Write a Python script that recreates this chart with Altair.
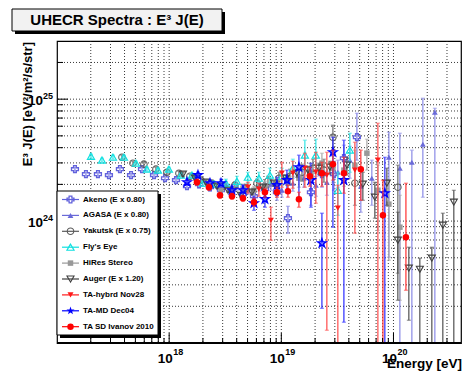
import altair as alt
import pandas as pd

# ---------------- data ----------------
# values are log10(E / eV) and log10(E^3 J / (eV^2 m^-2 s^-1 sr^-1)); hi/lo = error bar ends
akeno_logE = [17.160, 17.258, 17.365, 17.463, 17.561, 17.660, 17.758, 17.865, 17.963, 18.061, 18.159, 18.266, 18.364, 18.462, 18.560, 18.658, 18.756, 18.854, 18.961, 19.059, 19.264, 19.362, 19.469, 19.558, 19.674]
akeno_logJ = [24.426, 24.385, 24.385, 24.377, 24.426, 24.377, 24.426, 24.377, 24.352, 24.336, 24.286, 24.303, 24.278, 24.253, 24.253, 24.221, 24.204, 24.262, 24.237, 24.024, 24.237, 24.385, 24.385, 24.516, 24.688]
akeno_hi = [24.442, 24.401, 24.401, 24.393, 24.442, 24.393, 24.442, 24.401, 24.377, 24.360, 24.311, 24.327, 24.311, 24.286, 24.295, 24.262, 24.253, 24.311, 24.295, 24.122, 24.319, 24.475, 24.491, 24.623, 24.885]
akeno_lo = [24.409, 24.368, 24.368, 24.360, 24.409, 24.360, 24.409, 24.352, 24.327, 24.311, 24.262, 24.270, 24.245, 24.221, 24.212, 24.180, 24.155, 24.204, 24.171, 23.901, 24.130, 24.278, 24.253, 24.377, 24.500]

agasa_logE = [18.506, 18.604, 18.702, 18.800, 18.907, 19.005, 19.103, 19.201, 19.308, 19.406, 19.504, 19.611, 19.709, 19.807, 19.959, 20.057, 20.164, 20.262, 20.369]
agasa_logJ = [24.303, 24.286, 24.253, 24.286, 24.303, 24.253, 24.311, 24.352, 24.295, 24.319, 24.401, 24.500, 24.286, 24.352, 24.524, 24.434, 24.483, 24.631, 24.893]
agasa_hi = [24.327, 24.311, 24.286, 24.319, 24.344, 24.303, 24.368, 24.418, 24.368, 24.409, 24.500, 24.614, 24.434, 24.500, 24.729, 24.721, 24.582, 25.008, 24.926]
agasa_lo = [24.278, 24.253, 24.221, 24.245, 24.253, 24.196, 24.245, 24.278, 24.204, 24.212, 24.278, 24.352, 24.073, 24.130, 23.704, 22.8, 22.8, 24.196, 22.8]

yakutsk_logE = [17.579, 17.677, 17.775, 17.882, 17.980, 18.087, 18.185, 18.283, 18.381, 18.480, 18.586, 18.684, 18.783, 18.881, 18.979, 19.077, 19.184, 19.282, 19.380, 19.460, 19.656, 20.039]
yakutsk_logJ = [24.524, 24.475, 24.467, 24.426, 24.401, 24.393, 24.368, 24.336, 24.311, 24.286, 24.295, 24.270, 24.311, 24.327, 24.352, 24.368, 24.401, 24.434, 24.418, 24.688, 24.311, 24.278]
yakutsk_hi = [24.541, 24.491, 24.483, 24.442, 24.418, 24.409, 24.385, 24.352, 24.336, 24.311, 24.319, 24.303, 24.344, 24.368, 24.401, 24.426, 24.467, 24.508, 24.508, 24.787, 24.459, 24.459]
yakutsk_lo = [24.508, 24.459, 24.450, 24.409, 24.385, 24.377, 24.352, 24.311, 24.286, 24.262, 24.262, 24.237, 24.270, 24.278, 24.295, 24.303, 24.327, 24.352, 24.319, 24.557, 24.130, 23.573]

flyseye_logE = [17.303, 17.401, 17.499, 17.597, 17.704, 17.802, 17.900, 17.998, 18.105, 18.203, 18.301, 18.399, 18.506, 18.604, 18.702, 18.800, 18.898, 19.005, 19.103, 19.210, 19.308, 19.504, 19.611]
flyseye_logJ = [24.532, 24.500, 24.524, 24.524, 24.475, 24.426, 24.418, 24.426, 24.377, 24.377, 24.311, 24.303, 24.311, 24.327, 24.360, 24.352, 24.377, 24.368, 24.434, 24.541, 24.541, 24.253, 24.582]
flyseye_hi = [24.549, 24.516, 24.541, 24.541, 24.491, 24.442, 24.434, 24.442, 24.393, 24.393, 24.336, 24.327, 24.344, 24.368, 24.401, 24.401, 24.434, 24.434, 24.508, 24.664, 24.672, 24.401, 24.721]
flyseye_lo = [24.516, 24.483, 24.508, 24.508, 24.459, 24.409, 24.401, 24.409, 24.360, 24.352, 24.286, 24.278, 24.278, 24.286, 24.311, 24.295, 24.311, 24.295, 24.352, 24.418, 24.401, 24.048, 24.401]

hires_logE = [18.462, 18.560, 18.658, 18.756, 18.854, 18.961, 19.059, 19.157, 19.255, 19.362, 19.460, 19.558, 19.656, 19.763, 19.861, 19.959, 20.057]
hires_logJ = [24.262, 24.253, 24.270, 24.253, 24.286, 24.303, 24.311, 24.352, 24.401, 24.475, 24.434, 24.418, 24.459, 24.557, 24.253, 24.139, 23.950]
hires_hi = [24.286, 24.278, 24.303, 24.286, 24.327, 24.352, 24.368, 24.418, 24.475, 24.557, 24.532, 24.524, 24.582, 24.672, 24.459, 24.336, 24.212]
hires_lo = [24.237, 24.221, 24.237, 24.212, 24.245, 24.253, 24.253, 24.278, 24.319, 24.377, 24.319, 24.286, 24.311, 24.418, 23.925, 23.679, 23.351]

auger_logE = [18.123, 18.230, 18.328, 18.426, 18.524, 18.640, 18.738, 18.836, 18.934, 19.041, 19.139, 19.237, 19.335, 19.433, 19.585, 19.727, 19.834, 19.941, 20.039, 20.137, 20.235, 20.342, 20.440, 20.538]
auger_logJ = [24.385, 24.352, 24.319, 24.286, 24.253, 24.212, 24.237, 24.278, 24.311, 24.352, 24.393, 24.418, 24.434, 24.442, 24.459, 24.303, 24.196, 24.311, 23.843, 23.614, 23.605, 23.696, 23.966, 24.155]
auger_hi = [24.401, 24.368, 24.336, 24.303, 24.270, 24.229, 24.253, 24.295, 24.327, 24.377, 24.418, 24.450, 24.475, 24.491, 24.524, 24.401, 24.319, 24.434, 24.073, 23.786, 23.696, 23.786, 24.065, 24.253]
auger_lo = [24.368, 24.336, 24.303, 24.270, 24.237, 24.196, 24.221, 24.262, 24.286, 24.327, 24.360, 24.377, 24.385, 24.385, 24.377, 24.171, 24.024, 24.130, 23.351, 23.187, 22.8, 22.8, 22.8, 22.8]

tahybrid_logE = [18.702, 18.800, 18.907, 19.005, 19.103, 19.210, 19.308, 19.406, 19.504, 19.656, 19.861]
tahybrid_logJ = [24.278, 24.262, 24.007, 24.393, 24.393, 24.434, 24.401, 24.377, 24.106, 24.418, 24.500]
tahybrid_hi = [24.319, 24.311, 24.114, 24.483, 24.491, 24.557, 24.565, 24.565, 24.295, 24.647, 24.803]
tahybrid_lo = [24.229, 24.204, 23.843, 24.278, 24.270, 24.278, 24.147, 23.105, 22.8, 23.901, 22.8]

tamd_logE = [18.159, 18.257, 18.364, 18.462, 18.560, 18.658, 18.756, 18.854, 18.961, 19.050, 19.157, 19.264, 19.362, 19.460, 19.558, 19.923]
tamd_logJ = [24.319, 24.377, 24.311, 24.311, 24.253, 24.253, 24.147, 24.180, 24.295, 24.336, 24.442, 24.336, 23.819, 24.565, 24.336, 24.229]
tamd_hi = [24.344, 24.401, 24.336, 24.344, 24.286, 24.295, 24.204, 24.237, 24.360, 24.418, 24.541, 24.475, 24.065, 24.688, 24.664, 24.524]
tamd_lo = [24.295, 24.352, 24.286, 24.278, 24.221, 24.204, 24.089, 24.114, 24.212, 24.237, 24.188, 24.114, 23.285, 23.950, 23.171, 22.8]

tasd_logE = [18.248, 18.355, 18.453, 18.560, 18.658, 18.756, 18.854, 18.961, 19.059, 19.157, 19.255, 19.362, 19.460, 19.558, 19.709, 19.906, 20.111]
tasd_logJ = [24.319, 24.278, 24.212, 24.204, 24.188, 24.155, 24.237, 24.237, 24.245, 24.180, 24.368, 24.393, 24.467, 24.393, 24.426, 24.048, 23.868]
tasd_hi = [24.344, 24.303, 24.237, 24.229, 24.212, 24.188, 24.270, 24.278, 24.295, 24.237, 24.442, 24.483, 24.582, 24.524, 24.582, 24.336, 24.311]
tasd_lo = [24.295, 24.253, 24.188, 24.180, 24.163, 24.122, 24.196, 24.196, 24.196, 24.114, 24.286, 24.286, 24.336, 24.229, 24.171, 22.8, 23.433]

series_labels = ["Akeno (E x 0.80)", "AGASA (E x 0.80)", "Yakutsk (E x 0.75)", "Fly's Eye",
                 "HiRes Stereo", "Auger (E x 1.20)", "TA-hybrd Nov28", "TA-MD Dec04", "TA SD Ivanov 2010"]

x_major = [1e18, 1e19, 1e20]
x_major_sup = ["18", "19", "20"]
x_minor = [m * 10.0 ** d for d in (17, 18, 19) for m in range(2, 10)] + [2e20, 3e20]
y_major = [1e24, 1e25]
y_major_sup = ["24", "25"]
y_minor = [m * 10.0 ** d for d in (23, 24) for m in range(2, 10)] + [2e25]

# ---------------- styling ----------------
FONT = "Liberation Sans"
W, H = 404, 302
xs = alt.Scale(type="log", domain=[1e17, 4e20], nice=False)
ys = alt.Scale(type="log", domain=[1e23, 3e25], nice=False)
STAR = ("M0,-1L0.235,-0.324L0.951,-0.309L0.38,0.124L0.588,0.809L0,0.4L-0.588,0.809"
        "L-0.38,0.124L-0.951,-0.309L-0.235,-0.324Z")

raw = [
    (akeno_logE, akeno_logJ, akeno_hi, akeno_lo),
    (agasa_logE, agasa_logJ, agasa_hi, agasa_lo),
    (yakutsk_logE, yakutsk_logJ, yakutsk_hi, yakutsk_lo),
    (flyseye_logE, flyseye_logJ, flyseye_hi, flyseye_lo),
    (hires_logE, hires_logJ, hires_hi, hires_lo),
    (auger_logE, auger_logJ, auger_hi, auger_lo),
    (tahybrid_logE, tahybrid_logJ, tahybrid_hi, tahybrid_lo),
    (tamd_logE, tamd_logJ, tamd_hi, tamd_lo),
    (tasd_logE, tasd_logJ, tasd_hi, tasd_lo),
]
styles = [
    dict(color="#6262dc", bar="#8080e4", shape="cross", filled=False, size=48, sw=1.3),
    dict(color="#6a6ad8", bar="#8a8ae6", shape="triangle-up", filled=True, size=34, sw=1),
    dict(color="#5a5a5a", bar="#6a6a6a", shape="circle", filled=False, size=42, sw=1.1),
    dict(color="#10e0e0", bar="#30e6e6", shape="triangle-up", filled=False, size=50, sw=1.2),
    dict(color="#999999", bar="#a6a6a6", shape="square", filled=True, size=30, sw=1),
    dict(color="#404040", bar="#505050", shape="triangle-down", filled=False, size=50, sw=1.1),
    dict(color="#ff1a1a", bar="#ff4a4a", shape="triangle-down", filled=True, size=36, sw=1),
    dict(color="#0000ff", bar="#2a2aff", shape=STAR, filled=False, size=72, sw=1.5),
    dict(color="#ff0000", bar="#ff3030", shape="circle", filled=True, size=42, sw=1),
]

one = pd.DataFrame({"a": [0]})
layers = []

# grid
gx = pd.DataFrame({"v": x_minor + x_major})
gy = pd.DataFrame({"v": y_minor + y_major})
layers.append(alt.Chart(gx).mark_rule(color="#222", strokeDash=[1, 2], strokeWidth=0.9).encode(
    x=alt.X("v:Q", scale=xs, axis=None)))
layers.append(alt.Chart(gy).mark_rule(color="#222", strokeDash=[1, 2], strokeWidth=0.9).encode(
    y=alt.Y("v:Q", scale=ys, axis=None)))

# data
for (le, lj, lh, ll), st in zip(raw, styles):
    df = pd.DataFrame({
        "E": [10 ** v for v in le],
        "J": [10 ** v for v in lj],
        "Jhi": [10 ** v for v in lh],
        "Jlo": [10 ** v for v in ll],
    })
    X = alt.X("E:Q", scale=xs, axis=None)
    layers.append(alt.Chart(df).mark_rule(color=st["bar"], strokeWidth=1.2, clip=True).encode(
        x=X, y=alt.Y("Jlo:Q", scale=ys, axis=None), y2="Jhi:Q"))
    for col in ("Jhi", "Jlo"):
        layers.append(alt.Chart(df).mark_tick(orient="horizontal", size=4, thickness=1,
                                              color=st["bar"], clip=True).encode(
            x=X, y=alt.Y(f"{col}:Q", scale=ys, axis=None)))
    layers.append(alt.Chart(df).mark_point(shape=st["shape"], filled=st["filled"], size=st["size"],
                                           color=st["color"], strokeWidth=st["sw"], opacity=1,
                                           clip=True).encode(
        x=X, y=alt.Y("J:Q", scale=ys, axis=None)))

# ticks (inside, ROOT style)
layers.append(alt.Chart(pd.DataFrame({"v": x_minor})).mark_rule(color="black", strokeWidth=1).encode(
    x=alt.X("v:Q", scale=xs, axis=None), y=alt.value(H), y2=alt.value(H - 5)))
layers.append(alt.Chart(pd.DataFrame({"v": x_major})).mark_rule(color="black", strokeWidth=1).encode(
    x=alt.X("v:Q", scale=xs, axis=None), y=alt.value(H), y2=alt.value(H - 10)))
layers.append(alt.Chart(pd.DataFrame({"v": y_minor})).mark_rule(color="black", strokeWidth=1).encode(
    y=alt.Y("v:Q", scale=ys, axis=None), x=alt.value(0), x2=alt.value(6)))
layers.append(alt.Chart(pd.DataFrame({"v": y_major})).mark_rule(color="black", strokeWidth=1).encode(
    y=alt.Y("v:Q", scale=ys, axis=None), x=alt.value(0), x2=alt.value(11)))
# bottom axis line
layers.append(alt.Chart(one).mark_rule(color="black", strokeWidth=2).encode(
    x=alt.value(0), x2=alt.value(W), y=alt.value(H)))

# tick labels
xl = pd.DataFrame({"v": x_major, "t": ["10"] * 3, "s": x_major_sup})
layers.append(alt.Chart(xl).mark_text(font=FONT, fontSize=13.5, fontWeight="bold", align="center",
                                      baseline="alphabetic", dx=-4).encode(
    x=alt.X("v:Q", scale=xs, axis=None), y=alt.value(H + 20), text="t:N"))
layers.append(alt.Chart(xl).mark_text(font=FONT, fontSize=9, fontWeight="bold", align="left",
                                      baseline="alphabetic", dx=4).encode(
    x=alt.X("v:Q", scale=xs, axis=None), y=alt.value(H + 12), text="s:N"))
yl = pd.DataFrame({"v": y_major, "t": ["10"] * 2, "s": y_major_sup})
layers.append(alt.Chart(yl).mark_text(font=FONT, fontSize=13.5, fontWeight="bold", align="right",
                                      baseline="alphabetic", dy=6).encode(
    y=alt.Y("v:Q", scale=ys, axis=None), x=alt.value(-14), text="t:N"))
layers.append(alt.Chart(yl).mark_text(font=FONT, fontSize=9, fontWeight="bold", align="left",
                                      baseline="alphabetic", dy=0).encode(
    y=alt.Y("v:Q", scale=ys, axis=None), x=alt.value(-14), text="s:N"))

# axis titles
layers.append(alt.Chart(one).mark_text(font=FONT, fontSize=13.5, fontWeight="bold", align="right",
                                       baseline="alphabetic").encode(
    x=alt.value(W + 1), y=alt.value(H + 25), text=alt.value("Energy [eV]")))
layers.append(alt.Chart(one).mark_text(font=FONT, fontSize=13, fontWeight="bold", align="right",
                                       baseline="alphabetic", angle=270).encode(
    x=alt.value(-25), y=alt.value(1), text=alt.value("E³ J(E) [eV²/m²/s/str]")))

# title box
layers.append(alt.Chart(one).mark_rect(color="black").encode(
    x=alt.value(-42), x2=alt.value(168), y=alt.value(-29), y2=alt.value(-7)))
layers.append(alt.Chart(one).mark_rect(fill="#f2f2f2", stroke="black", strokeWidth=1).encode(
    x=alt.value(-45), x2=alt.value(165), y=alt.value(-32), y2=alt.value(-10)))
layers.append(alt.Chart(one).mark_text(font=FONT, fontSize=15, fontWeight="bold", align="center",
                                       baseline="alphabetic").encode(
    x=alt.value(60), y=alt.value(-16), text=alt.value("UHECR Spectra : E³ J(E)")))

# legend
layers.append(alt.Chart(one).mark_rect(color="black").encode(
    x=alt.value(3), x2=alt.value(104), y=alt.value(153), y2=alt.value(297)))
layers.append(alt.Chart(one).mark_rect(fill="white", stroke="black", strokeWidth=1).encode(
    x=alt.value(0), x2=alt.value(101), y=alt.value(150), y2=alt.value(294)))
for i, (lab, st) in enumerate(zip(series_labels, styles)):
    yy = 158.5 + i * 15.9
    layers.append(alt.Chart(one).mark_rule(color=st["color"], strokeWidth=1.2).encode(
        x=alt.value(5), x2=alt.value(22), y=alt.value(yy)))
    layers.append(alt.Chart(one).mark_point(shape=st["shape"], filled=st["filled"] or i == 7,
                                            size=st["size"], color=st["color"], strokeWidth=st["sw"],
                                            opacity=1).encode(
        x=alt.value(13.5), y=alt.value(yy)))
    layers.append(alt.Chart(one).mark_text(font=FONT, fontSize=8, fontWeight="bold", align="left",
                                           baseline="middle").encode(
        x=alt.value(26), y=alt.value(yy), text=alt.value(lab)))

chart = alt.layer(*layers).properties(
    width=W, height=H,
    padding={"left": 57, "top": 41, "right": 4, "bottom": 31},
    autosize=alt.AutoSizeParams(type="none"),
    background="white",
).configure_view(stroke="black", strokeWidth=1.2)

chart.save("out.html", embed_options={"renderer": "svg", "actions": False})
